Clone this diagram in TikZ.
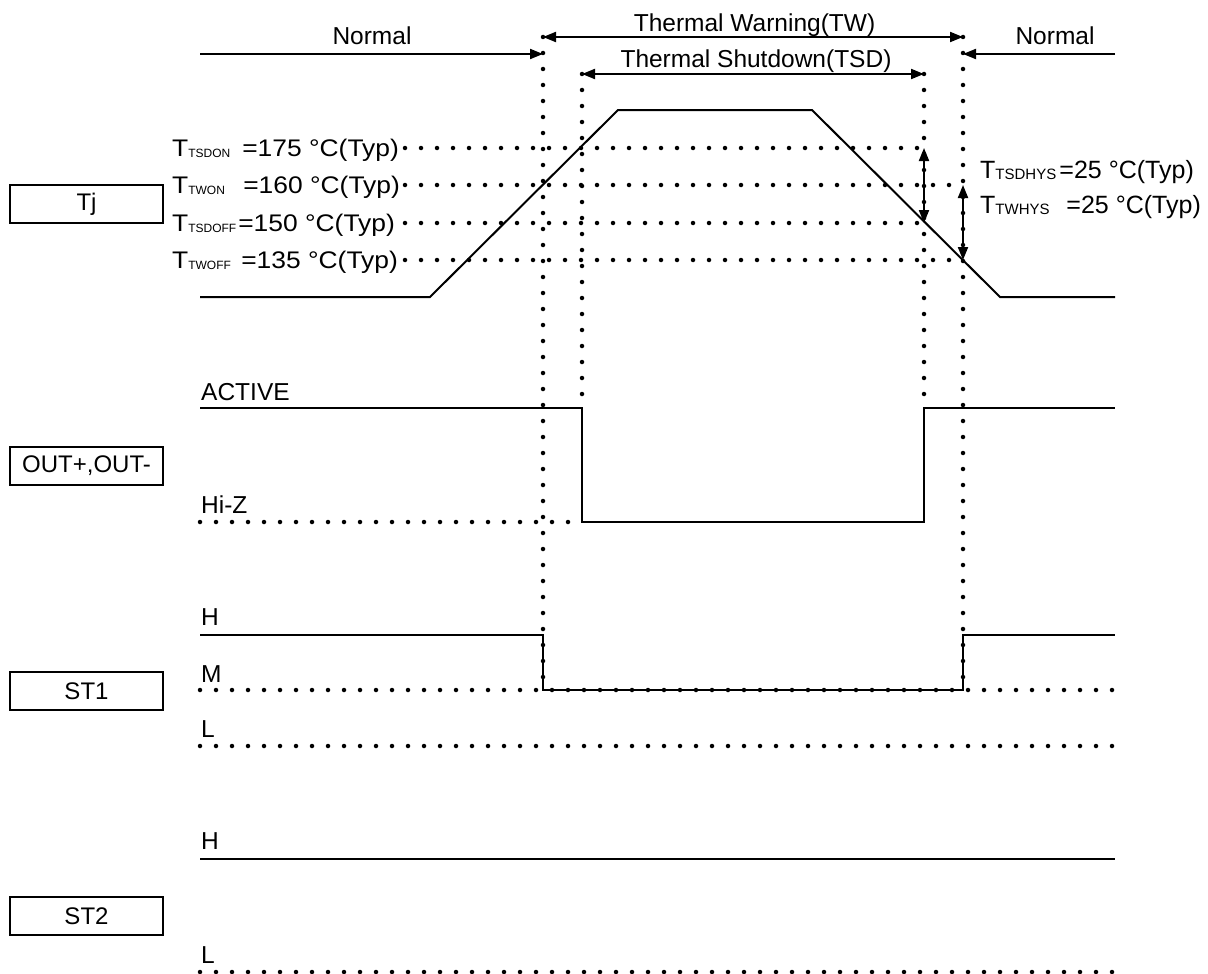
\documentclass[tikz,border=0pt]{standalone}
\usepackage{fontspec}
\setmainfont{Liberation Sans}
\newfontfamily\lvfont[FakeStretch=1.1]{Liberation Sans}
\usetikzlibrary{arrows.meta}
\newcommand\Tsub[3]{T\raisebox{-1pt}{\normalfont\fontsize{#3}{#3}\selectfont\makebox[#2][l]{#1}}}
\begin{document}
\begin{tikzpicture}[x=1pt,y=-1pt,
  sig/.style={line width=2pt},
  dotline/.style={line width=4.5pt, line cap=round, dash pattern=on 0pt off 16pt},
  lbl/.style={font=\fontsize{24.5}{28}\selectfont, inner sep=0pt},
  lvl/.style={font=\lvfont\fontsize{24}{28}\selectfont, inner sep=0pt},
  hyl/.style={font=\fontsize{25}{28}\selectfont, inner sep=0pt},
  sigbox/.style={draw, line width=1.8pt, minimum width=153pt, minimum height=38pt, inner sep=0pt, font=\fontsize{24}{28}\selectfont},
  arr/.style={line width=2pt, -{Triangle[length=13pt,width=10pt]}},
  darr/.style={line width=2pt, {Triangle[length=13pt,width=10pt]}-{Triangle[length=13pt,width=10pt]}}]
\useasboundingbox (0,0) rectangle (1208,974);
% key coordinates
\coordinate (twA) at (543,37);
\coordinate (twB) at (963,37);
\coordinate (nL) at (200,54);
\coordinate (nA) at (543,54);
\coordinate (nR) at (1115,54);
\coordinate (nB) at (963,54);
\coordinate (tsdA) at (582,74);
\coordinate (tsdB) at (924,74);
% boxes
\node[sigbox] (tj) at (86.5,204) {Tj};
\node[sigbox] (out) at (86.5,466) {OUT+,OUT-};
\node[sigbox] (st1) at (86.5,691) {ST1};
\node[sigbox] (st2) at (86.5,916) {ST2};
% top labels
\node[lbl, anchor=base] (normL) at (372,45) {Normal};
\node[lbl, anchor=base] (normR) at (1055,45) {Normal};
\node[lbl, anchor=base] (tw) at (754.5,31.5) {Thermal Warning(TW)};
\node[lbl, anchor=base] (tsd) at (756,67.5) {Thermal Shutdown(TSD)};
% vertical dotted lines
\draw[dotline] (twA) -- (543,690);
\draw[dotline] (twB) -- (963,690);
\draw[dotline] (tsdA) -- (582,408);
\draw[dotline] (tsdB) -- (924,408);
% top arrows
\draw[arr] (nL) -- (nA);
\draw[arr] (nR) -- (nB);
\draw[darr] (twA) -- (twB);
\draw[darr] (tsdA) -- (tsdB);
% Tj level labels
\node[lvl, anchor=base west] (lv1) at (172,156.5) {\Tsub{TSDON}{54pt}{12}=175 °C(Typ)};
\node[lvl, anchor=base west] (lv2) at (172,193.5) {\Tsub{TWON}{55pt}{12}=160 °C(Typ)};
\node[lvl, anchor=base west] (lv3) at (172,231.5) {\Tsub{TSDOFF}{50pt}{12}=150 °C(Typ)};
\node[lvl, anchor=base west] (lv4) at (172,268.5) {\Tsub{TWOFF}{53pt}{12}=135 °C(Typ)};
\draw[dotline] (405,148) -- (924,148);
\draw[dotline] (405,185) -- (963,185);
\draw[dotline] (405,223) -- (924,223);
\draw[dotline] (405,260) -- (963,260);
% Tj waveform
\draw[sig] (200,297) -- (430,297) -- (618,110) -- (812,110) -- (1000,297) -- (1115,297);
% hysteresis arrows
\draw[darr] (924,148) -- (924,223);
\draw[darr] (963,185) -- (963,260);
\node[hyl, anchor=base west] (hys1) at (980,178) {\Tsub{TSDHYS}{64pt}{15}=25 °C(Typ)};
\node[hyl, anchor=base west] (hys2) at (980,213) {\Tsub{TWHYS}{71pt}{15}=25 °C(Typ)};
% OUT waveform
\node[lbl, anchor=base west] (act) at (201,400) {ACTIVE};
\node[lbl, anchor=base west] (hiz) at (201,513) {Hi-Z};
\draw[dotline] (200,522) -- (582,522);
\draw[sig] (200,408) -- (582,408) -- (582,522) -- (924,522) -- (924,408) -- (1115,408);
% ST1
\node[lbl, anchor=base west] (h1) at (201,625) {H};
\node[lbl, anchor=base west] (m1) at (201,682) {M};
\node[lbl, anchor=base west] (l1) at (201,737) {L};
\draw[dotline] (200,690) -- (1115,690);
\draw[dotline] (200,746) -- (1115,746);
\draw[sig] (200,635) -- (543,635) -- (543,690) -- (963,690) -- (963,635) -- (1115,635);
% ST2
\node[lbl, anchor=base west] (h2) at (201,849) {H};
\node[lbl, anchor=base west] (l2) at (201,963) {L};
\draw[sig] (200,859) -- (1115,859);
\draw[dotline] (200,972) -- (1115,972);
\end{tikzpicture}
\end{document}
